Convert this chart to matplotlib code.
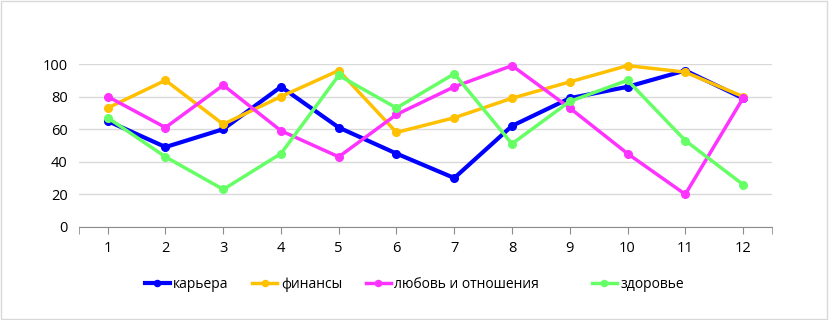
import matplotlib.pyplot as plt
from matplotlib.patches import Rectangle

months = list(range(1, 13))
kariera = [65, 49, 60, 86, 61, 45, 30, 62, 79, 86, 96, 79]
finansy = [73, 90, 63, 80, 96, 58, 67, 79, 89, 99, 95, 80]
lubov = [80, 61, 87, 59, 43, 69, 86, 99, 73, 45, 20, 79]
zdorovie = [67, 43, 23, 45, 93, 73, 94, 51, 77, 90, 53, 26]

labels = ['карьера', 'финансы', 'любовь и отношения', 'здоровье']
colors = ['#0000FF', '#FFC000', '#FF33FF', '#66FF66']
series = [kariera, finansy, lubov, zdorovie]

plt.rcParams['font.family'] = ['Open Sans', 'DejaVu Sans']

fig = plt.figure(figsize=(8.3, 3.2), dpi=100)
ax = fig.add_axes([0.095, 0.291, 0.835, 0.509])

lines = []
for vals, lab, c in zip(series, labels, colors):
    lw = 3 if c == '#0000FF' else 2.5
    ln, = ax.plot(months, vals, color=c, lw=lw, marker='o', ms=5.5, label=lab, clip_on=False)
    lines.append(ln)

ax.set_xlim(0.5, 12.5)
ax.set_ylim(0, 100)
ax.set_yticks(range(0, 101, 20))
ax.set_xticks(months)
ax.set_xticks([0.5, 12.5], minor=True)
ax.grid(axis='y', color='#d9d9d9', lw=1)
ax.set_axisbelow(True)
for s in ['top', 'right', 'left']:
    ax.spines[s].set_visible(False)
ax.spines['bottom'].set_color('#8c8c8c')
ax.tick_params(axis='y', length=0, labelsize=10.5, colors='#000000', pad=8)
ax.tick_params(axis='x', which='both', direction='out', length=5, color='#8c8c8c',
               labelsize=10.5, pad=5)

# legend: first three together, the last one set apart like in the original
leg_kw = dict(frameon=False, fontsize=10, handlelength=1.8, handletextpad=0.25,
              columnspacing=1.7, markerscale=0.8)
leg1 = ax.legend(lines[:3], labels[:3], loc='center left', bbox_to_anchor=(0.077, -0.355),
                 ncol=3, **leg_kw)
ax.add_artist(leg1)
ax.legend(lines[3:], labels[3:], loc='center left', bbox_to_anchor=(0.722, -0.355), **leg_kw)

fig.patches.append(Rectangle((0.001, 0.002), 0.995, 0.995, transform=fig.transFigure,
                             fill=False, edgecolor='#d9d9d9', lw=1))

fig.savefig('out.png', dpi=100)
